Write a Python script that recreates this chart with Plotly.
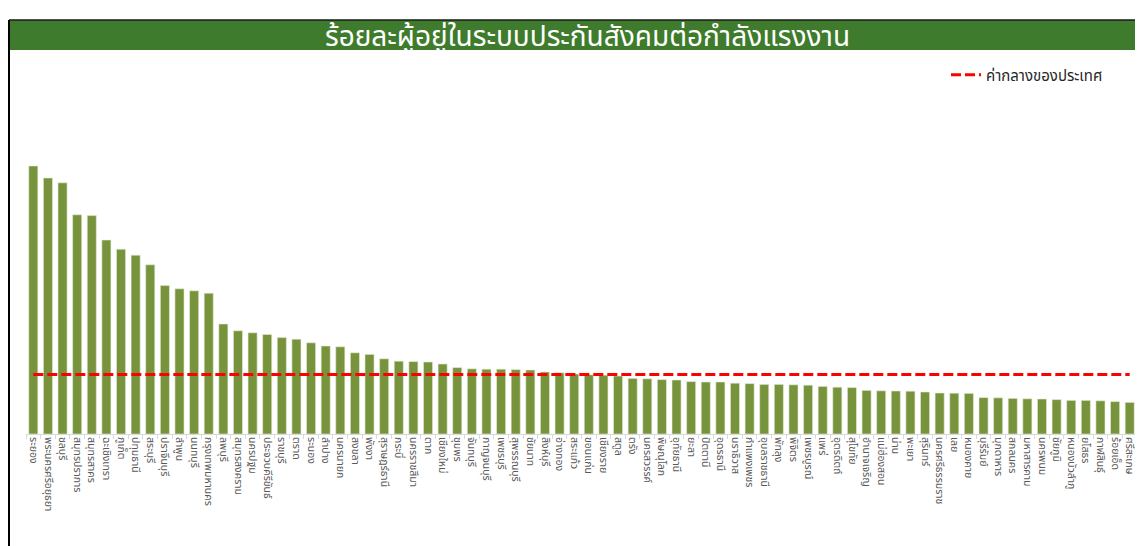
import plotly.graph_objects as go
import numpy as np

provinces = [
    "ระยอง", "พระนครศรีอยุธยา", "ชลบุรี", "สมุทรปราการ", "สมุทรสาคร", "ฉะเชิงเทรา",
    "ภูเก็ต", "ปทุมธานี", "สระบุรี", "ปราจีนบุรี", "ลำพูน", "นนทบุรี",
    "กรุงเทพมหานคร", "ลพบุรี", "สมุทรสงคราม", "นครปฐม", "ประจวบคีรีขันธ์", "ราชบุรี",
    "ตราด", "ระนอง", "ลำปาง", "นครนายก", "สงขลา", "พังงา",
    "สุราษฎร์ธานี", "กระบี่", "นครราชสีมา", "ตาก", "เชียงใหม่", "ชุมพร",
    "จันทบุรี", "กาญจนบุรี", "เพชรบุรี", "สุพรรณบุรี", "ชัยนาท", "สิงห์บุรี",
    "อ่างทอง", "สระแก้ว", "ขอนแก่น", "เชียงราย", "สตูล", "ตรัง",
    "นครสวรรค์", "พิษณุโลก", "อุทัยธานี", "ยะลา", "ปัตตานี", "อุดรธานี",
    "นราธิวาส", "กำแพงเพชร", "อุบลราชธานี", "พัทลุง", "พิจิตร", "เพชรบูรณ์",
    "แพร่", "อุตรดิตถ์", "สุโขทัย", "อำนาจเจริญ", "แม่ฮ่องสอน", "น่าน",
    "พะเยา", "สุรินทร์", "นครศรีธรรมราช", "เลย", "หนองคาย", "บุรีรัมย์",
    "มุกดาหาร", "สกลนคร", "มหาสารคาม", "นครพนม", "ชัยภูมิ", "หนองบัวลำภู",
    "ยโสธร", "กาฬสินธุ์", "ร้อยเอ็ด", "ศรีสะเกษ",
]

insured_pct = [
    67.0, 64.0, 62.8, 54.8, 54.6, 48.5,
    46.2, 44.7, 42.3, 37.1, 36.3, 35.8,
    35.2, 27.5, 25.8, 25.3, 24.9, 24.1,
    23.7, 22.8, 22.0, 21.8, 20.3, 19.9,
    18.8, 18.2, 18.1, 18.0, 17.5, 16.6,
    16.3, 16.2, 16.2, 16.1, 16.0, 15.5,
    15.3, 15.0, 14.8, 14.7, 14.5, 13.9,
    13.8, 13.6, 13.5, 13.1, 13.0, 13.0,
    12.7, 12.6, 12.4, 12.4, 12.3, 12.2,
    11.9, 11.7, 11.6, 10.9, 10.8, 10.75,
    10.7, 10.5, 10.25, 10.2, 10.15, 9.1,
    9.05, 8.9, 8.8, 8.75, 8.6, 8.4,
    8.4, 8.3, 8.1, 7.9,
]

median_value = float(np.median(insured_pct))

title_text = "ร้อยละผู้อยู่ในระบบประกันสังคมต่อกำลังแรงงาน"
legend_label = "ค่ากลางของประเทศ"

THAI_FONT = "Tahoma, Leelawadee UI, Noto Sans Thai, Noto Sans, DejaVu Sans, sans-serif"

# page has an 8px body margin: figure drawn at (8, 8)
OFF = 8
W, H = 1143 - OFF, 546 - OFF
ML, MR, MT, MB = 18, 6, 106, 112
PW = W - ML - MR
PH = H - MT - MB


def px(x):
    return (x - OFF - ML) / PW


def py(y):
    return (H + OFF - MB - y) / PH


fig = go.Figure()
fig.add_trace(go.Bar(
    x=provinces, y=insured_pct,
    marker=dict(color="#77933C", line=dict(color="#E4EBD6", width=0.6)),
    showlegend=False, hoverinfo="x+y",
))
fig.add_trace(go.Scatter(
    x=provinces, y=[median_value] * len(provinces),
    mode="lines", name=legend_label,
    line=dict(color="#FF0000", width=3, dash="10px,4px"),
))

fig.add_shape(type="rect", xref="paper", yref="paper",
              x0=px(9), x1=px(1150), y0=py(50), y1=py(20),
              fillcolor="#3E7B2C", line=dict(width=0), layer="below")
fig.add_shape(type="line", xref="paper", yref="paper",
              x0=px(9), x1=px(1150), y0=py(20), y1=py(20),
              line=dict(color="#1a1a1a", width=1.5))
fig.add_shape(type="line", xref="paper", yref="paper",
              x0=px(9), x1=px(9), y0=py(20), y1=py(560),
              line=dict(color="#000000", width=2))

fig.add_annotation(text=title_text, xref="paper", yref="paper",
                   x=px(587), y=py(38), xanchor="center", yanchor="middle",
                   showarrow=False,
                   font=dict(family=THAI_FONT, size=28, color="white"))

fig.update_layout(
    width=W, height=H,
    margin=dict(l=ML, r=MR, t=MT, b=MB, pad=0),
    paper_bgcolor="white", plot_bgcolor="white",
    bargap=0.38,
    font=dict(family=THAI_FONT),
    legend=dict(x=px(946), y=py(75), xanchor="left", yanchor="middle",
                bgcolor="rgba(0,0,0,0)", itemwidth=30,
                font=dict(size=15, color="#262626", family=THAI_FONT)),
    xaxis=dict(
        tickangle=90, tickfont=dict(size=10.5, color="#595959", family=THAI_FONT),
        showline=True, linecolor="#D9D9D9", linewidth=1,
        ticks="outside", tickson="boundaries", ticklen=4, tickcolor="#D9D9D9",
        showgrid=False, range=[-0.5, len(provinces) - 0.5],
    ),
    yaxis=dict(visible=False, range=[0, PH * 0.25], showgrid=False, zeroline=False),
)

fig.write_html("out.html")
